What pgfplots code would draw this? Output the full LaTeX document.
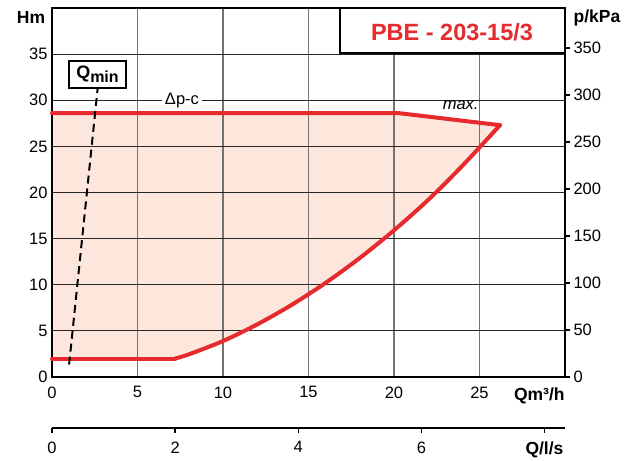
\documentclass[border=0pt]{standalone}
\usepackage{fontspec}
\setmainfont{Liberation Sans}
\usepackage{pgfplots}
\pgfplotsset{compat=1.18}
\definecolor{pred}{HTML}{E62A2D}
\definecolor{pfill}{HTML}{FDE6DC}
\begin{document}
\begin{tikzpicture}[x=1pt,y=1pt]
\path (0,0) rectangle (633,461);
\pgfplotsset{
  /pgf/number format/assume math mode=true,
}
\begin{axis}[
  set layers,
  at={(52pt,84pt)}, anchor=south west, scale only axis,
  width=513pt, height=369pt,
  xmin=0, xmax=30, ymin=0, ymax=40,
  xtick={0,5,10,15,20,25}, ytick={0,5,10,15,20,25,30,35},
  grid=major,
  x grid style={draw=black!55, line width=1.1pt},
  y grid style={draw=black!85, line width=0.9pt},
  axis line style={line width=2.2pt},
  major tick length=0pt,
  tick style={draw=none},
  ticklabel style={font=\fontsize{16.5}{18}\selectfont},
  xticklabel style={yshift=-6pt},
  yticklabel style={xshift=-1pt},
  clip=false,
]
% shaded operating area
\addplot[fill=pfill, draw=none, on layer=axis background] coordinates {
  (0,2) (7.2,2) (8,2.45) (9,3.1) (10,3.9) (11,4.8) (12,5.7) (13,6.7) (14,7.8) (15,8.9) (16,10.2) (17,11.5) (18,12.9)
  (19,14.4) (20,15.9) (21,17.5) (22,19.2) (23,21.0) (24,22.9) (25,25.0) (26.2,27.3) (20.3,28.6) (0,28.6)
} -- cycle;
% curve
\addplot[pred, line width=4pt, line cap=round] coordinates {(0,2) (7.2,2)};
\addplot[pred, line width=4pt, line cap=round, smooth] coordinates {
  (7.2,2) (8,2.45) (10,3.9) (12,5.7) (14,7.8) (16,10.2) (18,12.9)
  (20,15.9) (22,19.2) (24,22.9) (26.2,27.3)
};
\addplot[pred, line width=4pt, line cap=round, line join=round] coordinates {(26.2,27.3) (20.3,28.6) (0,28.6)};
% Qmin line
\addplot[black, line width=2pt, dash pattern=on 8pt off 5pt] coordinates {(1.0,1.35) (2.67,31.3)};
\node[draw=black, line width=1.6pt, fill=white, inner sep=2pt, minimum width=57pt, minimum height=27pt, font=\bfseries\fontsize{18}{20}\selectfont]
  at (axis cs:2.66,32.8) {Q\raisebox{-0.35ex}{\fontsize{16}{17}\selectfont min}};
\node[fill=white, inner sep=3pt, font=\fontsize{16.5}{18}\selectfont] at (axis cs:7.6,30) {Δp-c};
\node[font=\itshape\fontsize{16.5}{18}\selectfont] at (axis cs:23.9,29.5) {max.};
\node[font=\bfseries\fontsize{17.5}{19}\selectfont] at (axis cs:28.5,-2.0) {Qm³/h};
\end{axis}
% right axis (kPa)
\begin{axis}[
  at={(52pt,84pt)}, anchor=south west, scale only axis,
  width=513pt, height=369pt,
  xmin=0, xmax=30, ymin=0, ymax=392.4,
  axis x line=none, axis y line*=right,
  ytick={0,50,100,150,200,250,300,350},
  tick align=outside, major tick length=5pt,
  tick style={black, line width=1.3pt},
  y axis line style={line width=2.2pt},
  ticklabel style={font=\fontsize{16.5}{18}\selectfont},
]
\addplot[draw=none] coordinates {(0,0) (30,392.4)};
\end{axis}
% second x axis (l/s)
\begin{axis}[
  at={(52pt,33pt)}, anchor=south west, scale only axis,
  width=513pt, height=10pt,
  xmin=0, xmax=8.3333, ymin=0, ymax=1,
  axis y line=none, axis x line*=bottom,
  xtick={0,2,4,6,8}, xticklabels={0,2,4,6,{\textbf{\fontsize{17.5}{19}\selectfont Q/l/s}}},
  tick align=outside, major tick length=5pt,
  tick style={black, line width=1.3pt},
  x axis line style={line width=2.2pt},
  ticklabel style={font=\fontsize{16.5}{18}\selectfont},
  xticklabel style={yshift=-5pt},
]
\addplot[draw=none] coordinates {(0,0) (8.3333,1)};
\end{axis}
% labels and title box
\node[font=\bfseries\fontsize{17.5}{19}\selectfont] at (31,444) {Hm};
\node[font=\bfseries\fontsize{17.5}{19}\selectfont] at (597,443) {p/kPa};
\draw[line width=1.6pt, fill=white] (340,408) rectangle (565,453);
\node[font=\bfseries\fontsize{23.5}{26}\selectfont, text=pred] at (452,429) {PBE - 203-15/3};
\draw[line width=2.2pt] (52,453) -- (565,453);
\end{tikzpicture}
\end{document}
